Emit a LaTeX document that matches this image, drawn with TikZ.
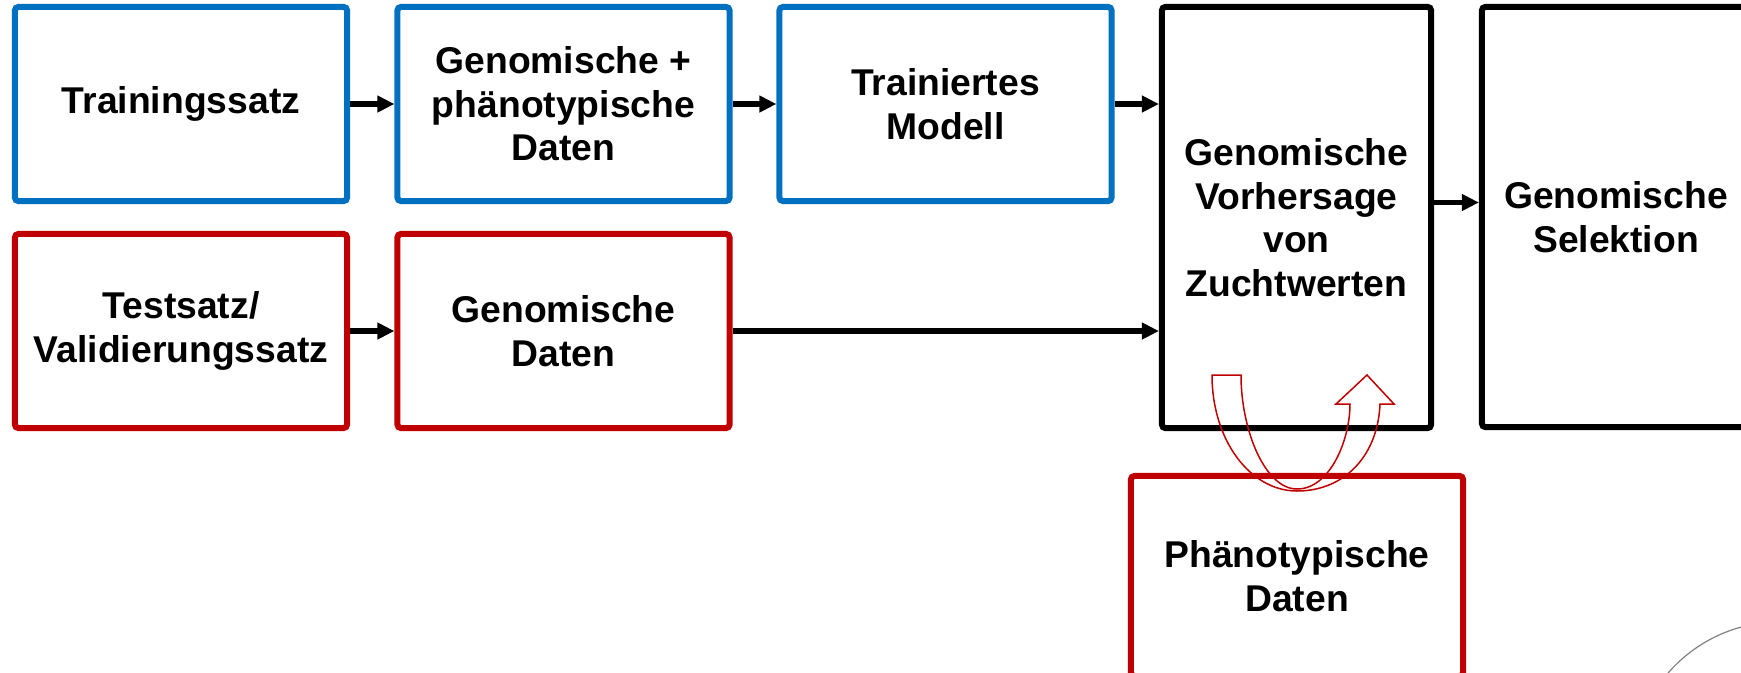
\documentclass[tikz,border=0pt]{standalone}
\usepackage{fontspec}
\setmainfont{Liberation Sans}
\usepackage{tikz}
\usetikzlibrary{arrows.meta}
\definecolor{trainblue}{HTML}{0070C0}
\definecolor{testred}{HTML}{C00000}
\definecolor{ringgray}{HTML}{808080}

\begin{document}
\begin{tikzpicture}[x=0.01cm,y=-0.01cm,
  >={Triangle[length=0.17cm,width=0.16cm]},
  box/.style={draw,line width=0.06cm,rounded corners=1pt,inner sep=0pt,align=center,
    font=\fontsize{10.6}{12.4}\selectfont\bfseries,
    minimum width=3.32cm,minimum height=1.94cm},
  flow/.style={->,line width=0.055cm}]
  \useasboundingbox (0,0) rectangle (1741,672);
  % training path
  \node[box,draw=trainblue] (ts) at (181,104) {Trainingssatz};
  \node[box,draw=trainblue] (gp) at (563.5,104) {Genomische +\\ph\"anotypische\\Daten};
  \node[box,draw=trainblue] (tm) at (945.5,104) {Trainiertes\\Modell};
  % test path
  \node[box,draw=testred] (vs) at (181,331) {Testsatz/\\Validierungssatz};
  \node[box,draw=testred] (gd) at (563.5,331) {Genomische\\Daten};
  % prediction and selection
  \node[box,minimum width=2.69cm,minimum height=4.21cm] (gv) at (1296.5,217.5)
    {Genomische\\Vorhersage\\von\\Zuchtwerten};
  \node[box,minimum width=2.68cm,minimum height=4.20cm] (sel) at (1616,217)
    {Genomische\\Selektion};
  \node[box,draw=testred,minimum height=2.00cm] (pd) at (1297,576)
    {Ph\"anotypische\\Daten};
  \draw[flow] (ts) -- (gp);
  \draw[flow] (gp) -- (tm);
  \draw[flow] (vs) -- (gd);
  \draw[flow] (tm.east) -- (tm.east -| gv.west);
  \draw[flow] (gd.east) -- (gd.east -| gv.west);
  \draw[flow] ([yshift=0.15cm]gv.east) -- ([yshift=0.15cm]gv.east -| sel.west);
  % u-turn block arrow
  \draw[testred,line width=0.015cm,line join=miter]
    (1212,375) -- (1241,375)
    .. controls (1241,430) and (1265,489) .. (1297,489)
    .. controls (1330,489) and (1350,440) .. (1350,404)
    -- (1336,404) -- (1367,375) -- (1394,404) -- (1380,404)
    .. controls (1378,455) and (1345,491) .. (1297,491)
    .. controls (1250,491) and (1212,440) .. (1212,375) -- cycle;
  % corner ring
  \draw[ringgray,line width=0.012cm] (1780,770) circle[radius=1.48cm];
\end{tikzpicture}
\end{document}
